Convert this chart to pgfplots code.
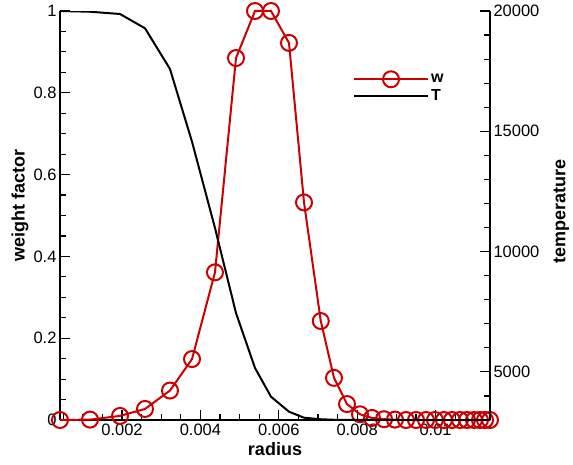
\documentclass[border=0pt]{standalone}
\usepackage{pgfplots}
\usepackage{pgfplotstable}
\pgfplotsset{compat=1.18}
\usepackage{fontspec}
\setmainfont{Liberation Sans}
\definecolor{wred}{RGB}{204,0,0}

\pgfplotstableread{
x        w      T
0.000418 0.000  20000
0.001184 0.001  19970
0.001949 0.010  19875
0.002587 0.027  19281
0.003224 0.072  17589
0.003786 0.149  14567
0.004372 0.361  10980
0.004908 0.885  7447
0.005393 1.000  5161
0.005801 1.000  3968
0.006260 0.922  3345
0.006643 0.532  3096
0.007071 0.242  3030
0.007408 0.103  3010
0.007740 0.039  3003
0.008071 0.014  3001
0.008378 0.005  3000
0.008684 0.002  3000
0.008964 0.001  3000
0.009245 0.000  3000
0.009500 0.000  3000
0.009755 0.000  3000
0.009985 0.000  3000
0.010214 0.000  3000
0.010418 0.000  3000
0.010622 0.000  3000
0.010801 0.000  3000
0.010980 0.000  3000
0.011133 0.000  3000
0.011260 0.000  3000
0.011388 0.000  3000
}\data

\begin{document}
\begin{tikzpicture}
\pgfplotsset{
  every axis/.append style={
    scale only axis, width=430pt, height=409pt,
    xmin=0.000418, xmax=0.011388,
    scaled ticks=false,
    tick align=inside,
    major tick length=10pt, minor tick length=6pt,
    tick style={black, line width=1.2pt},
    axis line style={black, line width=2pt},
    /pgf/number format/assume math mode=true,
    tick label style={font=\fontsize{16.5}{20}\selectfont},
    label style={font=\fontsize{18}{21}\selectfont\bfseries},
  }
}
\begin{axis}[
  axis x line*=bottom, axis y line*=left,
  ymin=0, ymax=1,
  ytick={0,0.2,0.4,0.6,0.8,1},
  yticklabels={0,0.2,0.4,0.6,0.8,1},
  minor y tick num=3,
  xtick={0.002,0.004,0.006,0.008,0.01},
  xticklabels={0.002,0.004,0.006,0.008,0.01},
  minor xtick={0.0005,0.001,0.0015,0.0025,0.003,0.0035,0.0045,0.005,0.0055,0.0065,0.007,0.0075,0.0085,0.009,0.0095,0.0105,0.011},
  xlabel={radius}, ylabel={weight factor},
  xlabel style={at={(axis description cs:0.5,-0.07)}, anchor=center},
  ylabel style={at={(axis description cs:-0.093,0.525)}, anchor=center},
  clip=false,
]
\addplot[wred, line width=2pt, mark=o, mark size=8pt, mark options={line width=2pt}] table[x=x,y=w]{\data};
\end{axis}
\begin{axis}[
  axis x line=none, axis y line*=right,
  ymin=3000, ymax=20000,
  ytick={5000,10000,15000,20000},
  yticklabels={5000,10000,15000,20000},
  minor ytick={4000,6000,7000,8000,9000,11000,12000,13000,14000,16000,17000,18000,19000},
  ylabel={temperature},
  ylabel style={at={(axis description cs:1.166,0.51)}, anchor=center},
  legend style={draw=none, fill=none, at={(0.674,0.858)}, anchor=north west,
    font=\fontsize{16}{19}\selectfont\bfseries, row sep=0pt},
  legend cell align=left,
  legend image code/.code={\draw[mark repeat=2, mark phase=2] plot coordinates {(0pt,0pt) (37pt,0pt) (74pt,0pt)};},
]
\addlegendimage{wred, line width=2pt, mark=o, mark size=8pt, mark options={line width=2pt}}
\addlegendentry{w}
\addplot[black, line width=2pt] table[x=x,y=T]{\data};
\addlegendentry{T}
\end{axis}
\path (-60pt,-44pt) rectangle (513pt,420pt);
\end{tikzpicture}
\end{document}
